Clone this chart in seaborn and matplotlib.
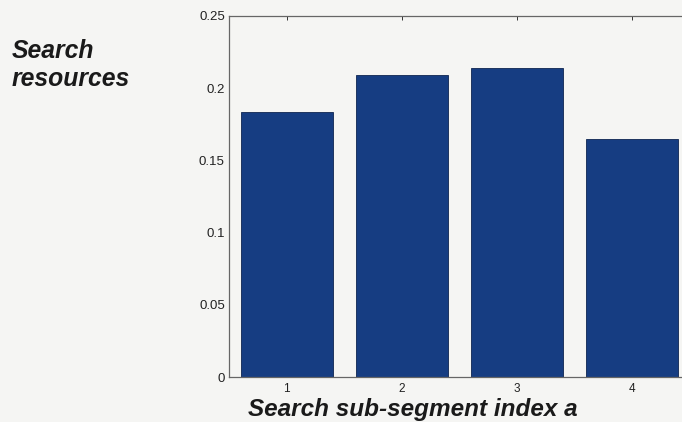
import matplotlib
matplotlib.use("Agg")
import matplotlib.pyplot as plt
import seaborn as sns
import pandas as pd

# Sub-segment indices and the share of search resources in each
segments = ["1", "2", "3", "4"]
resources = [0.1835, 0.209, 0.214, 0.1648]
y_ticks = [0, 0.05, 0.1, 0.15, 0.2, 0.25]
y_tick_labels = ["0", "0.05", "0.1", "0.15", "0.2", "0.25"]

df = pd.DataFrame({"segment": segments, "resources": resources})

sns.set_style("white")
plt.rcParams["font.family"] = ["Liberation Sans", "DejaVu Sans"]

bg = "#f5f5f3"
fig = plt.figure(figsize=(6.82, 4.22), dpi=100, facecolor=bg)
# axes run slightly past the right edge of the figure
ax = fig.add_axes([229 / 682, 1 - 377 / 422, 461 / 682, 361 / 422])
ax.set_facecolor(bg)

sns.barplot(data=df, x="segment", y="resources", ax=ax, color="#163d82",
            saturation=1, width=0.8, edgecolor="#0e2550", linewidth=0.6)

ax.set_xlim(-0.5, 3.5)
ax.set_ylim(0, 0.25)
ax.set_yticks(y_ticks)
ax.set_yticklabels(y_tick_labels)
ax.tick_params(axis="both", direction="in", length=3, width=0.7,
               labelsize=9.5, colors="#333333", top=True, right=True,
               labelcolor="#222222", pad=3)
ax.tick_params(axis="x", labelsize=8.5, pad=4)
for s in ax.spines.values():
    s.set_color("#666666")
    s.set_linewidth(0.9)

ax.set_xlabel("Search sub-segment index a", fontsize=17.5,
              fontweight="bold", fontstyle="italic", color="#1a1a1a")
ax.xaxis.set_label_coords((413 - 229) / 461, -0.058)
ax.set_ylabel("Search\nresources", fontsize=17.8, fontweight="bold",
              fontstyle="italic", color="#1a1a1a", rotation=0,
              ha="left", va="top", linespacing=1.2)
ax.yaxis.set_label_coords(-(229 - 12) / 461, 0.935)

fig.savefig("out.png", dpi=100, facecolor=bg)
